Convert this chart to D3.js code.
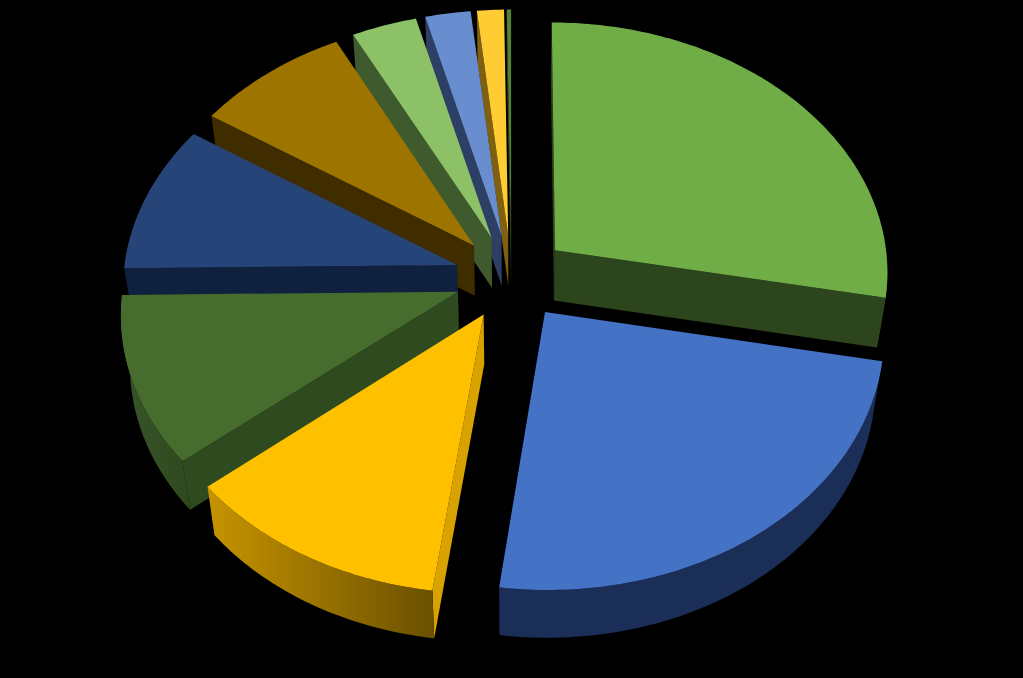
<!DOCTYPE html>
<html>
<head>
<meta charset="utf-8">
<script src="https://cdn.jsdelivr.net/npm/d3@7"></script>
<style>
  html, body { margin: 0; background: #000; overflow: hidden; }
  svg { display: block; }
</style>
</head>
<body>
<svg></svg>
<script>
const width = 1023
const height = 678

// share of each slice (%)
const values = [28.05, 24.07, 11.88, 10.8, 9.5, 8.2, 3.45, 2.4, 1.42, 0.23]
const topColors = ['#70ad47', '#4472c4', '#ffc000', '#466d2d', '#264478', '#9e7400', '#8cc168', '#698ed0', '#ffcd33', '#548235']
const wallColors = ['#2d451c', '#1a2e58', '#d8a300', '#2f4a1e', '#10203f', '#3f2d00', '#3f5a2c', '#2e3f66', '#7f6010', '#2d451c']
const rimLeft = ['#2d451c', '#1a2e58', '#c79400', '#38562a', '#10203f', '#3f2d00', '#3f5a2c', '#2e3f66', '#7f6010', '#2d451c']
const rimRight = ['#2d451c', '#1a2e58', '#6b5000', '#2f4a1e', '#10203f', '#3f2d00', '#3f5a2c', '#2e3f66', '#7f6010', '#2d451c']
// far slices first, so the nearer ones paint over them
const drawOrder = [9, 8, 7, 6, 5, 4, 3, 2, 0, 1]

const explode = 0.17
const depth = 50
const persp = 0.08

const xScale = d3.scaleLinear().domain([-1, 1]).range([511.5 - 334, 511.5 + 334])
const yScale = d3.scaleLinear().domain([-1, 1]).range([277 - 250, 277 + 250])

const svg = d3.select('svg').attr('width', width).attr('height', height)
  .style('background', '#000')
const defs = svg.append('defs')
const line = d3.line()

// ground point -> screen, h is how far below the top surface.
// the underside sits further from the camera so it pulls in a little
function project(X, Y, h) {
  let w = 1 - persp * Y
  let shrink = 1 - h * 0.00046
  return [xScale(X * shrink / w), yScale(Y / w) + h * (1 - 0.04 * Y)]
}

let slices = d3.pie().sort(null)(values)

drawOrder.forEach(i => {
  let s = slices[i]
  let mid = (s.startAngle + s.endAngle) / 2
  let ax = explode * Math.sin(mid)
  let ay = -explode * Math.cos(mid)
  let rimAt = (a, h) => project(ax + Math.sin(a), ay - Math.cos(a), h)
  let apex = h => project(ax, ay, h)

  let n = Math.max(2, Math.ceil((s.endAngle - s.startAngle) / 0.015))
  let angles = d3.range(n + 1).map(k => s.startAngle + (s.endAngle - s.startAngle) * k / n)

  let g = svg.append('g')

  // straight walls, only when they face the viewer
  ;[s.startAngle, s.endAngle].forEach(a => {
    let p0 = apex(0)
    let p1 = rimAt(a, 0)
    let m = rimAt(mid, 0)
    let ex = p1[0] - p0[0]
    let ey = p1[1] - p0[1]
    let inner = ex * (m[1] - p0[1]) - ey * (m[0] - p0[0])
    if (ex * inner < 0) {
      g.append('path')
        .attr('d', line([p0, p1, rimAt(a, depth), apex(depth)]) + 'Z')
        .attr('fill', wallColors[i])
    }
  })

  // rim wall on the near half of the disc
  let near = angles.filter(a => Math.cos(a) < 0)
  if (near.length > 1) {
    let upper = near.map(a => rimAt(a, 0))
    let lower = near.map(a => rimAt(a, depth)).reverse()
    let xs = d3.extent(upper, p => p[0])
    let id = 'rim' + i
    let grad = defs.append('linearGradient').attr('id', id)
      .attr('gradientUnits', 'userSpaceOnUse')
      .attr('x1', xs[0]).attr('x2', xs[1]).attr('y1', 0).attr('y2', 0)
    grad.append('stop').attr('offset', 0).attr('stop-color', rimLeft[i])
    grad.append('stop').attr('offset', 1).attr('stop-color', rimRight[i])
    g.append('path')
      .attr('d', line(upper.concat(lower)) + 'Z')
      .attr('fill', `url(#${id})`)
  }

  // top surface
  g.append('path')
    .attr('d', line([apex(0)].concat(angles.map(a => rimAt(a, 0)))) + 'Z')
    .attr('fill', topColors[i])
})
</script>
</body>
</html>
